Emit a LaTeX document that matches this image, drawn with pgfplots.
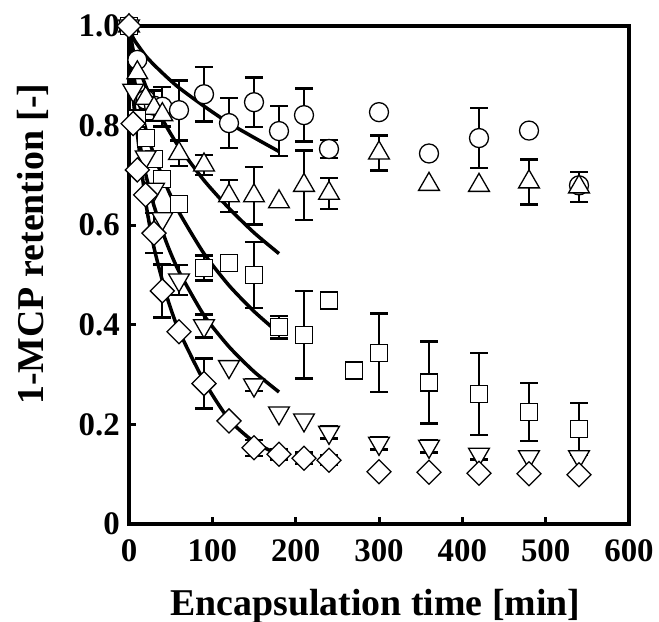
\documentclass[border=0pt]{standalone}
\usepackage{pgfplots}
\pgfplotsset{compat=1.18}
\usepackage{pgfplotstable}
\usepackage{fontspec}
\setmainfont{Liberation Serif}

% ---- data: circles
\pgfplotstableread{
t y
0 1.000
10 0.932
20 0.852
30 0.840
40 0.838
60 0.831
90 0.863
120 0.805
150 0.847
180 0.789
210 0.821
240 0.753
300 0.827
360 0.744
420 0.775
480 0.790
540 0.680
}\tcirc
\pgfplotstableread{
t y e
30 0.840 0.03
40 0.838 0.04
60 0.831 0.06
90 0.863 0.055
120 0.805 0.05
150 0.847 0.05
180 0.789 0.05
210 0.821 0.053
240 0.753 0.018
420 0.775 0.06
}\ecirc
% ---- triangles
\pgfplotstableread{
t y
0 1.000
10 0.906
20 0.855
30 0.835
40 0.822
60 0.744
90 0.721
120 0.659
150 0.659
180 0.647
210 0.680
240 0.664
300 0.745
360 0.682
420 0.680
480 0.687
540 0.677
}\ttri
\pgfplotstableread{
t y e
60 0.744 0.025
90 0.721 0.02
120 0.659 0.032
150 0.659 0.058
210 0.680 0.07
240 0.664 0.031
300 0.745 0.035
480 0.687 0.045
540 0.677 0.03
}\etri
% ---- squares
\pgfplotstableread{
t y
0 1.000
10 0.814
20 0.775
30 0.733
40 0.693
60 0.643
90 0.514
120 0.524
150 0.500
180 0.395
210 0.380
240 0.449
270 0.308
300 0.344
360 0.284
420 0.261
480 0.225
540 0.191
}\tsq
\pgfplotstableread{
t y e
90 0.514 0.025
150 0.500 0.066
180 0.395 0.023
210 0.380 0.088
300 0.344 0.079
360 0.284 0.082
420 0.261 0.082
480 0.225 0.058
540 0.191 0.052
}\esq
% ---- inverted triangles
\pgfplotstableread{
t y
0 1.000
5 0.871
20 0.737
30 0.672
40 0.613
60 0.490
90 0.398
120 0.316
150 0.279
180 0.223
210 0.209
240 0.184
300 0.162
360 0.156
420 0.140
480 0.135
540 0.135
}\tinv
\pgfplotstableread{
t y e
60 0.490 0.03
90 0.398 0.023
150 0.279 0.012
240 0.184 0.012
300 0.162 0.012
360 0.156 0.012
420 0.140 0.01
}\einv
% ---- diamonds
\pgfplotstableread{
t y
0 1.000
5 0.804
10 0.711
20 0.661
30 0.584
40 0.468
60 0.386
90 0.282
120 0.207
150 0.153
180 0.140
210 0.132
240 0.128
300 0.105
360 0.104
420 0.102
480 0.101
540 0.099
}\tdia
\pgfplotstableread{
t y e
30 0.584 0.04
40 0.468 0.053
90 0.282 0.05
150 0.153 0.016
180 0.140 0.01
210 0.132 0.012
240 0.128 0.01
}\edia
% ---- fitted curves
\pgfplotstableread{
t a b c d f
0 1.000 1.000 1.000 1.000 1.000
5 0.976 0.952 0.909 0.857 0.865
10 0.963 0.925 0.862 0.792 0.784
20 0.940 0.880 0.794 0.703 0.647
30 0.922 0.844 0.741 0.639 0.555
45 0.898 0.798 0.678 0.565 0.459
60 0.876 0.757 0.626 0.507 0.388
90 0.839 0.690 0.543 0.419 0.287
120 0.805 0.634 0.479 0.356 0.210
150 0.776 0.585 0.427 0.306 0.165
180 0.748 0.543 0.383 0.265 0.139
}\tfit

\begin{document}
\begin{tikzpicture}
\begin{axis}[
  scale only axis, width=500bp, height=498bp,
  xmin=0, xmax=600, ymin=0, ymax=1,
  clip=false,
  xtick={0,100,200,300,400,500,600},
  xticklabels={0,100,200,300,400,500,600},
  ytick={0,0.2,0.4,0.6,0.8,1.0},
  yticklabels={0,0.2,0.4,0.6,0.8,1.0},
  xtick pos=bottom, ytick pos=left, tick align=inside,
  major tick length=7bp,
  tick style={line width=3bp, black},
  axis line style={line width=4bp},
  tick label style={font=\fontsize{33}{33}\selectfont\bfseries},
  yticklabel style={inner xsep=9bp},
  xticklabel style={inner ysep=15bp},
  label style={font=\fontsize{38}{38}\selectfont\bfseries},
  xlabel={Encapsulation time [min]},
  ylabel={1-MCP retention [-]},
  xlabel style={at={(axis description cs:0.493,-0.183)}, anchor=base},
  ylabel style={at={(axis description cs:-0.172,0.562)}, anchor=base},
  errb/.style={forget plot, only marks, mark=none,
    error bars/.cd, y dir=both, y explicit,
    error bar style={draw=black, line width=1.8bp},
    error mark options={draw=black, rotate=90, mark size=9bp, line width=2.5bp}},
]
\coordinate (O) at (rel axis cs:0,0);
% fitted curves
\addplot[black, line width=3.5bp, smooth, tension=0.4] table[x=t, y=a]{\tfit};
\addplot[black, line width=3.5bp, smooth, tension=0.4] table[x=t, y=b]{\tfit};
\addplot[black, line width=3.5bp, smooth, tension=0.4] table[x=t, y=c]{\tfit};
\addplot[black, line width=3.5bp, smooth, tension=0.4] table[x=t, y=d]{\tfit};
\addplot[black, line width=3.5bp, smooth, tension=0.4] table[x=t, y=f]{\tfit};
% error bars
\addplot[errb] table[x=t, y=y, y error=e]{\ecirc};
\addplot[errb] table[x=t, y=y, y error=e]{\etri};
\addplot[errb] table[x=t, y=y, y error=e]{\esq};
\addplot[errb] table[x=t, y=y, y error=e]{\einv};
\addplot[errb] table[x=t, y=y, y error=e]{\edia};
% markers
\addplot[only marks, mark=*, mark size=9.5bp,
  mark options={fill=white, draw=black, line width=1.3bp}] table[x=t, y=y]{\tcirc};
\addplot[only marks, mark=triangle*, mark size=12bp,
  mark options={fill=white, draw=black, line width=1.3bp}] table[x=t, y=y]{\ttri};
\addplot[only marks, mark=square*, mark size=8.5bp,
  mark options={fill=white, draw=black, line width=1.3bp}] table[x=t, y=y]{\tsq};
\addplot[only marks, mark=triangle*, mark size=12bp,
  mark options={fill=white, draw=black, line width=1.3bp, rotate=180}] table[x=t, y=y]{\tinv};
\addplot[only marks, mark=square*, mark size=8.5bp,
  mark options={fill=white, draw=black, line width=1.3bp, rotate=45}] table[x=t, y=y]{\tdia};
\end{axis}
\pgfresetboundingbox
\path[use as bounding box] ([shift={(-129bp,-98bp)}]O) rectangle ++(659bp,622bp);
\end{tikzpicture}
\end{document}
